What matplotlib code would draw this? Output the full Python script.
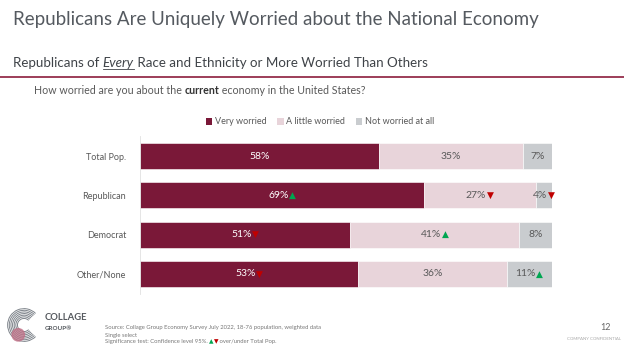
import matplotlib.pyplot as plt
import matplotlib.patches as mpatches
from matplotlib.offsetbox import TextArea, HPacker, AnnotationBbox
import numpy as np

plt.rcParams['font.family'] = ['Lato', 'DejaVu Sans']

groups = ["Total Pop.", "Republican", "Democrat", "Other/None"]
very = [58, 69, 51, 53]
little = [35, 27, 41, 36]
notw = [7, 4, 8, 11]
# significance vs Total Pop.: 1 = over, -1 = under, 0 = none
sig_very = [0, 1, -1, -1]
sig_little = [0, -1, 1, 0]
sig_notw = [0, -1, 0, 1]
series_names = ["Very worried", "A little worried", "Not worried at all"]

c_very = "#7a1838"
c_little = "#e8d4da"
c_notw = "#c9cccf"
up_col = "#00a651"
down_col = "#c00000"
txt_gray = "#595959"
W, H = 624, 351

fig = plt.figure(figsize=(6.24, 3.51), dpi=100)
fig.patch.set_facecolor("white")
fig.canvas.draw()
r = fig.canvas.get_renderer()


def fx(px):
    return px / W


def fy(py):
    return 1 - py / H


def chain(x0, yy, pieces, **kw):
    # write text pieces one after the other on one line
    x = x0
    out = []
    for s, extra in pieces:
        opts = dict(kw)
        opts.update(extra)
        t = fig.text(x, yy, s, va="center", **opts)
        x = t.get_window_extent(r).x1 / fig.bbox.width
        out.append(t)
    return out


# header
fig.text(fx(13), fy(19), "Republicans Are Uniquely Worried about the National Economy",
         fontsize=13.5, color="#555a60", va="center", ha="left")
parts = chain(fx(13), fy(63), [("Republicans of ", {}),
                              ("Every", {"style": "italic"}),
                              (" Race and Ethnicity or More Worried Than Others", {})],
              fontsize=9.6, color="#3f4348")
be = parts[1].get_window_extent(r)
fig.add_artist(plt.Line2D([be.x0/fig.bbox.width, be.x1/fig.bbox.width],
                          [fy(68.5), fy(68.5)], color="#3f4348", lw=0.6))
fig.add_artist(plt.Line2D([0, 1], [fy(76.5), fy(76.5)], color="#8c1c3c", lw=1.2))

chain(fx(34), fy(90), [("How worried are you about the ", {}),
                       ("current", {"fontweight": "bold", "color": "#333333"}),
                       (" economy in the United States?", {})],
      fontsize=7.7, color=txt_gray)

# chart
ax = fig.add_axes([fx(140), fy(293.6), 412/W, 157.2/H])
y = np.arange(len(groups))
h = 0.66
very_a = np.array(very)
little_a = np.array(little)
notw_a = np.array(notw)
ax.barh(y, very_a, height=h, color=c_very, edgecolor="white", linewidth=0.4, label=series_names[0])
ax.barh(y, little_a, left=very_a, height=h, color=c_little, edgecolor="white", linewidth=0.4,
        label=series_names[1])
ax.barh(y, notw_a, left=very_a+little_a, height=h, color=c_notw, edgecolor="white", linewidth=0.4,
        label=series_names[2])
ax.set_xlim(0, 100)
ax.set_ylim(3.5, -0.5)
ax.set_yticks(y)
ax.set_yticklabels(groups, fontsize=6.5, color=txt_gray)
ax.tick_params(axis="y", length=0, pad=10)
ax.set_xticks([])
for s in ["top", "right", "bottom"]:
    ax.spines[s].set_visible(False)
ax.spines["left"].set_color("#e0e0e0")
ax.spines["left"].set_linewidth(0.6)


def seg_label(xc, yc, val, sig, col):
    items = [TextArea(f"{val}%", textprops=dict(fontsize=7.5, color=col))]
    if sig == 1:
        items.append(TextArea("▲", textprops=dict(fontsize=6.5, color=up_col, family="DejaVu Sans")))
    elif sig == -1:
        items.append(TextArea("▼", textprops=dict(fontsize=6.5, color=down_col, family="DejaVu Sans")))
    box = HPacker(children=items, align="center", pad=0, sep=0.5)
    ab = AnnotationBbox(box, (xc, yc), frameon=False, box_alignment=(0.5, 0.5), pad=0)
    ax.add_artist(ab)


for i in range(len(groups)):
    seg_label(very[i]/2, y[i], very[i], sig_very[i], "white")
    seg_label(very[i] + little[i]/2, y[i], little[i], sig_little[i], txt_gray)
    seg_label(very[i] + little[i] + notw[i]/2, y[i], notw[i], sig_notw[i], txt_gray)

handles = [mpatches.Rectangle((0, 0), 1, 1, fc=c) for c in [c_very, c_little, c_notw]]
leg = fig.legend(handles, series_names, loc="center", bbox_to_anchor=(fx(320), fy(122)),
                 ncol=3, frameon=False, fontsize=6.5, handlelength=0.7, handleheight=0.7,
                 handletextpad=0.3, columnspacing=1.2)
for t in leg.get_texts():
    t.set_color(txt_gray)

# footer: logo
lax = fig.add_axes([fx(6), fy(343), 36/W, 36/H])
lax.set_xlim(-1.1, 1.1)
lax.set_ylim(-1.1, 1.1)
lax.set_aspect("equal")
lax.axis("off")
for rr in np.linspace(0.4, 1.0, 7):
    lax.add_patch(mpatches.Arc((0, 0), 2*rr, 2*rr, theta1=45, theta2=315, color="#7d838a", lw=0.7))
lax.add_patch(mpatches.Circle((-0.35, -0.6), 0.38, color="#c07389", alpha=0.75, zorder=3))
fig.text(fx(45), fy(318), "COLLAGE", fontsize=6.8, color="#55595e", fontweight="bold", va="center")
fig.text(fx(45), fy(329), "GROUP®", fontsize=4.5, color="#55595e", fontweight="bold", va="center")

src_kw = dict(fontsize=4.2, color="#777777")
fig.text(fx(105), fy(328), "Source: Collage Group Economy Survey July 2022, 18-76 population, weighted data",
         va="center", **src_kw)
fig.text(fx(105), fy(335), "Single select", va="center", **src_kw)
chain(fx(105), fy(342), [("Significance test: Confidence level 95%. ", {}),
                         ("▲", {"color": up_col, "family": "DejaVu Sans"}),
                         ("▼", {"color": down_col, "family": "DejaVu Sans"}),
                         (" over/under Total Pop.", {})], **src_kw)

fig.text(fx(611), fy(328), "12", fontsize=6.5, color="#666666", ha="right", va="center")
fig.text(fx(621), fy(339), "COMPANY CONFIDENTIAL", fontsize=3.2, color="#aaaaaa", ha="right",
         va="center")

fig.savefig("out.png", dpi=100)
